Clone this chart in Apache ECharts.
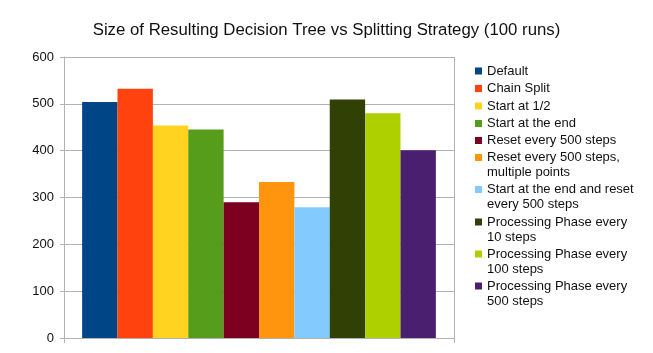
<!DOCTYPE html>
<html>
<head>
<meta charset="utf-8">
<script src="https://cdn.jsdelivr.net/npm/echarts@6/dist/echarts.min.js"></script>
<style>
  html, body { margin: 0; padding: 0; background: #fff; }
  #chart { width: 653px; height: 353px; }
</style>
</head>
<body>
<div id="chart"></div>
<script>
// data
var categories = [''];
var seriesNames = [
    'Default',
    'Chain Split',
    'Start at 1/2',
    'Start at the end',
    'Reset every 500 steps',
    'Reset every 500 steps,\nmultiple points',
    'Start at the end and reset\nevery 500 steps',
    'Processing Phase every\n10 steps',
    'Processing Phase every\n100 steps',
    'Processing Phase every\n500 steps'
];
var seriesValues = [504, 532, 454, 445, 290, 333, 279, 509, 480, 401];
var yTicks = [0, 100, 200, 300, 400, 500, 600];

var colors = ['#004586', '#ff420e', '#ffd320', '#579d1c', '#7e0021',
              '#ff950e', '#83caff', '#314004', '#aecf00', '#4b1f6f'];
// vertical centre of each legend icon
var legendCenters = [71, 88.5, 106, 123.5, 140.5, 157.5, 189.5, 222, 254, 286];

var chart = echarts.init(document.getElementById('chart'));

var series = seriesNames.map(function (name, i) {
    return {
        name: name,
        type: 'bar',
        data: [seriesValues[i]],
        barGap: 0,
        barCategoryGap: '9.3%',
        itemStyle: { color: colors[i] }
    };
});

// one legend per entry so wrapped names keep the square on their first line
// (a leading empty line pushes the text block down by half a line)
var legends = seriesNames.map(function (name, i) {
    var multi = name.indexOf('\n') >= 0;
    return {
        data: [name],
        orient: 'vertical',
        left: 475,
        top: multi ? legendCenters[i] - 22.5 : legendCenters[i] - 7.5,
        padding: 0,
        icon: 'rect',
        itemWidth: 7,
        itemHeight: 7,
        itemGap: 0,
        selectedMode: false,
        formatter: function (n) {
            return n.indexOf('\n') >= 0 ? '\n' + n : n;
        },
        textStyle: {
            fontFamily: 'Liberation Sans',
            fontSize: 13,
            lineHeight: 15,
            color: '#111'
        }
    };
});

var option = {
    animation: false,
    color: colors,
    title: {
        text: 'Size of Resulting Decision Tree vs Splitting Strategy (100 runs)',
        left: 'center',
        top: 17,
        textStyle: {
            fontFamily: 'Liberation Sans',
            fontSize: 16.8,
            fontWeight: 'normal',
            color: '#111'
        }
    },
    legend: legends,
    grid: {
        left: 64,
        right: 199,
        top: 57,
        bottom: 15,
        containLabel: false
    },
    xAxis: {
        type: 'category',
        data: categories,
        axisLine: { lineStyle: { color: '#b3b3b3' } },
        axisTick: { show: true, length: 5, lineStyle: { color: '#b3b3b3' } },
        axisLabel: { show: false },
        splitLine: { show: true, lineStyle: { color: '#b3b3b3' } }
    },
    yAxis: {
        type: 'value',
        min: yTicks[0],
        max: yTicks[yTicks.length - 1],
        interval: 100,
        axisLine: { show: true, lineStyle: { color: '#b3b3b3' } },
        axisTick: { show: true, length: 4, lineStyle: { color: '#b3b3b3' } },
        axisLabel: {
            margin: 10,
            fontFamily: 'Liberation Sans',
            fontSize: 13,
            color: '#111'
        },
        splitLine: { lineStyle: { color: '#b3b3b3' } }
    },
    series: series
};

chart.setOption(option);
window.addEventListener('resize', function () {
    chart.resize();
});
</script>
</body>
</html>
